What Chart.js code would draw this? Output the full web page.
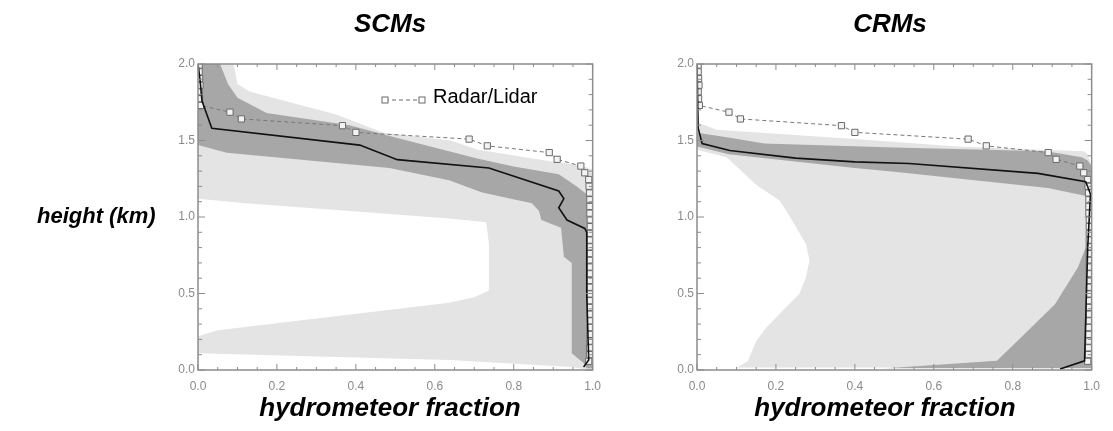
<!DOCTYPE html>
<html>
<head>
<meta charset="utf-8">
<script src="https://cdn.jsdelivr.net/npm/chart.js@4.4.1/dist/chart.umd.min.js"></script>
<style>
  body { margin: 0; background: #fff; }
  #wrap { position: relative; width: 1113px; height: 431px; overflow: hidden; font-family: "Liberation Sans", Arial, sans-serif; }
  #wrap canvas { position: absolute; top: 0; }
  .lbl { position: absolute; font-weight: bold; font-style: italic; font-size: 26px; line-height: 26px; color: #000; white-space: nowrap; }
  .key { position: absolute; font-size: 20px; line-height: 20px; color: #000; white-space: nowrap; }
</style>
</head>
<body>
<div id="wrap">
  <canvas id="scm" width="460" height="431" style="left:150px"></canvas>
  <canvas id="crm" width="460" height="431" style="left:649px"></canvas>
  <div class="lbl" style="left:290px;width:200px;text-align:center;top:10px">SCMs</div>
  <div class="lbl" style="left:790px;width:200px;text-align:center;top:10px">CRMs</div>
  <div class="lbl" style="left:37px;top:205px;font-size:22px;line-height:22px">height (km)</div>
  <div class="lbl" style="left:240px;width:300px;text-align:center;top:394px">hydrometeor fraction</div>
  <div class="lbl" style="left:735px;width:300px;text-align:center;top:394px">hydrometeor fraction</div>
  <div class="key" style="left:433px;top:86px">Radar/Lidar</div>
</div>
<script>
// observations (same profile in both panels)
const radarHeight = [0.057, 0.101, 0.145, 0.189, 0.233, 0.277, 0.321, 0.365, 0.409, 0.453,
  0.497, 0.541, 0.585, 0.629, 0.673, 0.717, 0.761, 0.805, 0.849, 0.893,
  0.937, 0.981, 1.025, 1.069, 1.113, 1.157, 1.201, 1.245, 1.289, 1.333,
  1.377, 1.421, 1.465, 1.509, 1.553, 1.597, 1.641, 1.685, 1.729, 1.773,
  1.817, 1.861, 1.905, 1.949, 1.993];
const radarFrac = [0.990, 0.992, 0.992, 0.993, 0.993, 0.993, 0.994, 0.994, 0.994, 0.994,
  0.994, 0.994, 0.994, 0.994, 0.994, 0.994, 0.994, 0.994, 0.994, 0.994,
  0.994, 0.994, 0.993, 0.993, 0.993, 0.992, 0.991, 0.990, 0.980, 0.970,
  0.910, 0.890, 0.733, 0.687, 0.400, 0.366, 0.110, 0.081, 0.006, 0.004,
  0.003, 0.005, 0.004, 0.003, 0.003];

// SCMs
const scmMeanH = [0.02, 0.065, 0.50, 0.90, 0.925, 0.98, 1.06, 1.12, 1.17, 1.32, 1.375, 1.47, 1.58, 1.76, 1.90, 2.00];
const scmMeanF = [0.977, 0.99, 0.985, 0.985, 0.98, 0.935, 0.914, 0.927, 0.914, 0.737, 0.505, 0.41, 0.035, 0.01, 0.005, 0.0];
const scmDarkHiH = [0.01, 1.12, 1.20, 1.28, 1.33, 1.38, 1.43, 1.52, 1.60, 1.68, 1.78, 1.87, 2.00];
const scmDarkHiF = [1.00, 1.00, 0.96, 0.914, 0.80, 0.71, 0.636, 0.50, 0.384, 0.174, 0.10, 0.076, 0.056];
const scmDarkLoH = [0.01, 0.045, 0.11, 0.70, 0.74, 0.93, 0.98, 1.04, 1.09, 1.16, 1.24, 1.32, 1.42, 1.47, 2.00];
const scmDarkLoF = [0.985, 0.977, 0.947, 0.947, 0.927, 0.92, 0.87, 0.864, 0.846, 0.72, 0.636, 0.485, 0.073, 0.0, 0.0];
const scmLightHiH = [0.00, 1.31, 1.34, 1.37, 1.44, 1.50, 1.55, 1.67, 1.82, 1.87, 2.00];
const scmLightHiF = [1.00, 1.00, 0.965, 0.88, 0.71, 0.64, 0.47, 0.35, 0.13, 0.10, 0.09];
const scmLightLoH = [0.00, 0.02, 0.065, 0.11, 0.22, 0.26, 0.44, 0.475, 0.52, 0.83, 0.965, 0.99, 1.055, 1.09, 1.12, 2.00];
const scmLightLoF = [0.99, 0.947, 0.636, 0.0, 0.0, 0.05, 0.636, 0.70, 0.737, 0.737, 0.73, 0.636, 0.30, 0.12, 0.0, 0.0];

// CRMs
const crmMeanH = [0.007, 0.06, 0.80, 1.15, 1.23, 1.285, 1.35, 1.36, 1.385, 1.435, 1.48, 1.58, 2.00];
const crmMeanF = [0.92, 0.982, 0.99, 0.997, 0.985, 0.864, 0.537, 0.40, 0.25, 0.083, 0.013, 0.003, 0.0];
const crmDarkHiH = [0.01, 1.33, 1.37, 1.39, 1.43, 1.455, 1.48, 1.52, 1.55];
const crmDarkHiF = [1.00, 1.00, 0.99, 0.975, 0.885, 0.50, 0.17, 0.08, 0.0];
const crmDarkLoH = [0.01, 0.06, 0.235, 0.43, 0.67, 0.80, 0.85, 1.13, 1.14, 1.19, 1.295, 1.32, 1.41, 1.46, 1.55];
const crmDarkLoF = [0.47, 0.76, 0.83, 0.907, 0.965, 0.985, 1.0, 1.0, 0.98, 0.889, 0.50, 0.40, 0.08, 0.0, 0.0];
const crmLightHiH = [0.015, 1.34, 1.41, 1.43, 1.46, 1.51, 1.57, 1.62];
const crmLightHiF = [1.00, 1.00, 0.99, 0.98, 0.66, 0.40, 0.05, 0.0];
const crmLightLoH = [0.015, 0.059, 0.19, 0.277, 0.387, 0.496, 0.605, 0.715, 0.824, 0.933, 1.043, 1.108, 1.21, 1.39, 1.44, 1.62];
const crmLightLoF = [0.10, 0.129, 0.150, 0.176, 0.217, 0.259, 0.276, 0.285, 0.276, 0.251, 0.226, 0.209, 0.15, 0.075, 0.0, 0.0];

const xTicks = [0, 0.2, 0.4, 0.6, 0.8, 1.0];
const yTicks = [0, 0.5, 1.0, 1.5, 2.0];

const LIGHT = "#e4e4e4";
const DARK = "#a7a7a7";
const AXIS = "#8c8c8c";

const pts = (f, h) => f.map((v, i) => ({ x: v, y: h[i] }));

// frame with inward ticks on all four sides, IDL style
const frameTicks = {
  id: "frameTicks",
  afterDatasetsDraw(chart) {
    const { ctx, chartArea: a, scales: { x, y } } = chart;
    ctx.save();
    ctx.strokeStyle = AXIS;
    ctx.lineWidth = 1.5;
    ctx.strokeRect(a.left, a.top, a.right - a.left, a.bottom - a.top);
    ctx.lineWidth = 1;
    ctx.beginPath();
    for (let i = 0; i <= 20; i++) {
      const px = x.getPixelForValue(i * 0.05);
      const len = i % 4 === 0 ? 6 : 3;
      ctx.moveTo(px, a.bottom); ctx.lineTo(px, a.bottom - len);
      ctx.moveTo(px, a.top); ctx.lineTo(px, a.top + len);
    }
    for (let i = 0; i <= 20; i++) {
      const py = y.getPixelForValue(i * 0.1);
      const len = i % 5 === 0 ? 7 : 4;
      ctx.moveTo(a.left, py); ctx.lineTo(a.left + len, py);
      ctx.moveTo(a.right, py); ctx.lineTo(a.right - len, py);
    }
    ctx.stroke();
    ctx.restore();
  }
};

// legend symbol for the radar/lidar line (text is the html label next to it)
const radarKey = {
  id: "radarKey",
  afterDraw(chart) {
    const { ctx, chartArea: a } = chart;
    const y0 = a.top + 36, x0 = a.left + 187, x1 = a.left + 224;
    ctx.save();
    ctx.strokeStyle = "#6a6a6a";
    ctx.lineWidth = 1;
    ctx.setLineDash([4, 3]);
    ctx.beginPath();
    ctx.moveTo(x0, y0); ctx.lineTo(x1, y0);
    ctx.stroke();
    ctx.setLineDash([]);
    ctx.fillStyle = "#fff";
    [x0, x1].forEach(px => {
      ctx.fillRect(px - 3, y0 - 3, 6, 6);
      ctx.strokeRect(px - 3, y0 - 3, 6, 6);
    });
    ctx.restore();
  }
};

function makeChart(id, p, top, rightPad, extra) {
  const datasets = [
    { data: pts(p.meanF, p.meanH), borderColor: "#111", borderWidth: 1.6, pointRadius: 0, fill: false, order: 0 },
    { data: pts(radarFrac, radarHeight), borderColor: "#777", borderWidth: 1, borderDash: [4, 3],
      pointStyle: "rect", pointRadius: 4.4, pointBorderColor: "#6a6a6a", pointBorderWidth: 1,
      pointBackgroundColor: "#f3f3f3", fill: false, order: 1 },
    { data: pts(p.darkHiF, p.darkHiH), borderColor: "rgba(0,0,0,0)", pointRadius: 0, backgroundColor: DARK, fill: "+1", order: 2 },
    { data: pts(p.darkLoF, p.darkLoH), borderColor: "rgba(0,0,0,0)", pointRadius: 0, fill: false, order: 3 },
    { data: pts(p.lightHiF, p.lightHiH), borderColor: "rgba(0,0,0,0)", pointRadius: 0, backgroundColor: LIGHT, fill: "+1", order: 4 },
    { data: pts(p.lightLoF, p.lightLoH), borderColor: "rgba(0,0,0,0)", pointRadius: 0, fill: false, order: 5 }
  ];
  const tickFont = { family: "'Liberation Sans', Arial, sans-serif", size: 12 };
  return new Chart(document.getElementById(id), {
    type: "line",
    data: { datasets },
    plugins: [frameTicks].concat(extra),
    options: {
      responsive: false,
      animation: false,
      indexAxis: "y",
      layout: { padding: { top: top, right: rightPad, bottom: 431 - top - 306 - 30, left: 0 } },
      plugins: { legend: { display: false }, tooltip: { enabled: false } },
      elements: { line: { tension: 0 } },
      scales: {
        x: {
          type: "linear", min: 0, max: 1,
          afterBuildTicks: s => { s.ticks = xTicks.map(v => ({ value: v })); },
          afterFit: s => { s.height = 30; },
          grid: { display: false, drawTicks: false },
          border: { display: false },
          ticks: { color: "#8a8a8a", font: tickFont, padding: 9, maxRotation: 0, autoSkip: false,
                   callback: v => v.toFixed(1) }
        },
        y: {
          type: "linear", min: 0, max: 2,
          afterBuildTicks: s => { s.ticks = yTicks.map(v => ({ value: v })); },
          afterFit: s => { s.width = 48; },
          grid: { display: false, drawTicks: false },
          border: { display: false },
          ticks: { color: "#8a8a8a", font: tickFont, padding: 3, autoSkip: false,
                   callback: v => v.toFixed(1) }
        }
      }
    }
  });
}

makeChart("scm", {
  meanF: scmMeanF, meanH: scmMeanH,
  darkHiF: scmDarkHiF, darkHiH: scmDarkHiH, darkLoF: scmDarkLoF, darkLoH: scmDarkLoH,
  lightHiF: scmLightHiF, lightHiH: scmLightHiH, lightLoF: scmLightLoF, lightLoH: scmLightLoH
}, 64, 16, [radarKey]);

makeChart("crm", {
  meanF: crmMeanF, meanH: crmMeanH,
  darkHiF: crmDarkHiF, darkHiH: crmDarkHiH, darkLoF: crmDarkLoF, darkLoH: crmDarkLoH,
  lightHiF: crmLightHiF, lightHiH: crmLightHiH, lightLoF: crmLightLoF, lightLoH: crmLightLoH
}, 64, 15, []);
</script>
</body>
</html>
